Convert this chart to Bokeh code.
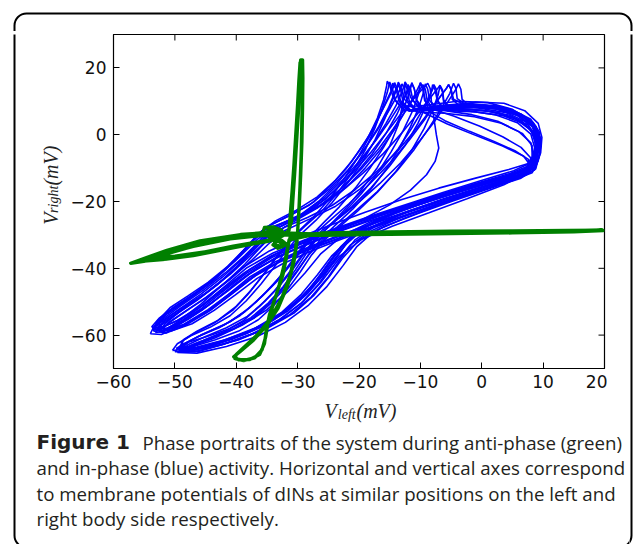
import math
from bokeh.plotting import figure
from bokeh.models import FixedTicker, Range1d, GridBox
from bokeh.core.properties import value
from bokeh.embed import file_html
from bokeh.resources import INLINE

# ---------------- data ----------------
x_ticks = [-60, -50, -40, -30, -20, -10, 0, 10, 20]
x_tick_labels = ["\u221260", "\u221250", "\u221240", "\u221230", "\u221220", "\u221210", "0", "10", "20"]
y_ticks = [-60, -40, -20, 0, 20]
y_tick_labels = ["\u221260", "\u221240", "\u221220", "0", "20"]
x_min, x_max = -60, 20
y_min, y_max = -70, 30

# in-phase activity (blue): loops, (V_left, V_right)
blue_loop_a1 = [(-53.5,-58.8),(-53.0,-56.2),(-50.8,-52.6),(-47.0,-48.2),(-43.4,-43.2),(-40.2,-37.8),(-37.4,-32.0),(-35.0,-27.6),(-31.0,-24.0),(-27.4,-20.2),(-24.6,-15.2),(-22.2,-10.4),(-20.2,-5.4),(-18.4,-0.4),(-17.0,5.0),(-16.0,10.4),(-15.5,14.6),(-15.4,16.0),(-15.0,14.8),(-14.4,11.0),(-13.0,8.2),(-9.0,8.8),(-4.0,10.0),(1.0,9.6),(5.0,7.6),(7.8,4.4),(9.2,0.2),(9.2,-4.4),(8.4,-9.0),(6.0,-11.4),(1.0,-14.2),(-5.0,-17.6),(-11.0,-21.0),(-17.0,-24.6),(-22.0,-28.0),(-27.0,-31.8),(-32.0,-35.6),(-36.6,-40.0),(-40.4,-45.0),(-44.0,-50.4),(-47.8,-55.2),(-51.4,-58.6),(-53.5,-58.8)]
blue_loop_a2 = [(-52.8,-58.0),(-51.6,-55.8),(-48.8,-52.2),(-45.2,-47.8),(-41.8,-42.8),(-38.8,-37.6),(-36.0,-32.4),(-33.4,-28.2),(-30.0,-24.6),(-26.6,-20.0),(-23.6,-14.6),(-21.0,-9.0),(-18.8,-3.4),(-16.8,2.4),(-15.2,8.0),(-14.2,12.6),(-13.7,15.0),(-13.6,15.7),(-13.2,14.4),(-12.6,10.6),(-11.0,7.6),(-7.0,7.8),(-2.0,8.4),(3.0,7.6),(6.6,5.4),(8.6,2.0),(9.0,-2.2),(8.7,-6.8),(7.8,-10.2),(4.8,-12.4),(-0.6,-15.4),(-6.6,-18.8),(-12.6,-22.4),(-18.6,-26.0),(-23.6,-29.2),(-28.6,-32.8),(-33.4,-36.6),(-37.6,-41.4),(-41.4,-46.8),(-45.0,-51.6),(-48.6,-55.6),(-51.4,-58.0),(-52.8,-58.0)]
blue_loop_a3 = [(-53.8,-57.6),(-52.6,-55.0),(-50.0,-51.4),(-46.4,-47.0),(-42.8,-42.0),(-39.6,-36.8),(-36.6,-31.4),(-33.8,-27.4),(-29.6,-24.6),(-25.6,-20.6),(-22.0,-15.6),(-19.0,-10.0),(-16.4,-4.2),(-14.2,1.6),(-12.4,7.2),(-10.9,12.0),(-10.2,14.6),(-10.0,15.5),(-9.6,14.0),(-9.2,10.4),(-8.6,7.0),(-6.0,4.2),(-2.0,1.0),(2.0,-2.0),(5.4,-4.8),(7.6,-7.4),(7.6,-10.2),(5.0,-12.0),(0.0,-14.6),(-6.0,-17.8),(-12.0,-21.2),(-18.0,-24.8),(-23.4,-28.2),(-28.6,-31.8),(-33.6,-35.8),(-38.0,-40.6),(-41.8,-46.0),(-45.4,-51.0),(-49.0,-55.2),(-52.2,-57.8),(-53.8,-57.6)]
blue_loop_a4 = [(-54.0,-59.6),(-53.4,-57.4),(-51.2,-53.6),(-47.6,-49.0),(-44.0,-44.0),(-40.8,-38.6),(-38.0,-33.0),(-35.4,-28.6),(-31.4,-25.6),(-27.0,-22.0),(-23.0,-17.2),(-19.4,-11.6),(-16.0,-5.6),(-13.0,0.6),(-10.4,6.4),(-8.4,11.0),(-7.2,13.8),(-6.8,14.8),(-6.4,13.4),(-6.2,10.4),(-5.4,8.4),(-1.0,9.8),(3.6,9.4),(7.0,7.2),(9.2,3.4),(9.8,-0.8),(9.6,-5.4),(8.8,-9.6),(6.4,-12.2),(1.4,-15.2),(-4.6,-18.8),(-10.6,-22.4),(-16.6,-26.0),(-22.0,-29.6),(-27.2,-33.2),(-32.2,-37.2),(-36.8,-41.8),(-40.8,-47.2),(-44.6,-52.4),(-48.6,-56.8),(-52.2,-59.8),(-54.0,-59.6)]
blue_loop_a5 = [(-53.0,-57.2),(-51.8,-55.0),(-49.0,-51.2),(-45.4,-46.6),(-41.8,-41.4),(-38.6,-36.2),(-35.8,-31.0),(-33.0,-27.0),(-29.0,-23.6),(-25.4,-19.2),(-22.4,-13.8),(-19.8,-8.2),(-17.6,-2.4),(-15.6,3.4),(-14.0,8.6),(-13.0,12.8),(-12.6,15.0),(-12.5,15.8),(-12.1,14.6),(-11.6,11.2),(-10.2,8.0),(-6.0,7.2),(-1.6,6.0),(2.6,4.0),(6.0,1.0),(8.0,-2.4),(8.4,-6.2),(7.6,-9.4),(4.6,-11.6),(-1.0,-14.6),(-7.0,-18.0),(-13.0,-21.6),(-19.0,-25.2),(-24.4,-28.6),(-29.6,-32.2),(-34.4,-36.4),(-38.6,-41.2),(-42.4,-46.4),(-46.0,-51.6),(-49.6,-55.6),(-52.0,-57.6),(-53.0,-57.2)]
blue_loop_a6 = [(-52.4,-58.6),(-51.6,-56.6),(-49.2,-53.0),(-45.8,-48.6),(-42.4,-43.8),(-39.4,-38.8),(-36.8,-33.8),(-34.4,-29.0),(-30.8,-25.6),(-27.2,-21.8),(-24.0,-16.8),(-21.0,-11.4),(-18.2,-5.6),(-15.6,0.4),(-13.2,6.2),(-11.0,11.0),(-9.4,14.2),(-8.8,15.4),(-8.4,13.8),(-8.2,10.0),(-7.8,5.0),(-7.4,0.0),(-7.0,-4.0),(-7.6,-8.0),(-9.0,-12.0),(-11.6,-16.6),(-15.0,-21.0),(-19.4,-25.4),(-24.4,-29.6),(-29.4,-33.4),(-34.0,-37.4),(-38.2,-42.0),(-42.0,-47.4),(-45.6,-52.6),(-49.2,-56.8),(-51.6,-58.8),(-52.4,-58.6)]
blue_loop_a7 = [(-53.2,-59.2),(-52.2,-57.0),(-49.8,-53.8),(-46.4,-49.6),(-43.0,-44.8),(-40.0,-39.6),(-37.6,-34.8),(-35.6,-30.4),(-32.8,-26.8),(-29.0,-23.4),(-25.6,-18.8),(-22.6,-13.4),(-19.8,-7.6),(-17.2,-1.6),(-15.0,4.2),(-13.2,9.4),(-11.9,13.2),(-11.4,15.2),(-11.0,13.8),(-10.6,10.4),(-9.4,7.4),(-5.0,7.6),(0.0,7.4),(4.6,5.8),(7.6,2.8),(8.8,-1.4),(8.6,-5.6),(7.6,-8.6),(4.4,-10.4),(-1.0,-13.0),(-7.0,-16.0),(-13.0,-19.4),(-19.0,-23.2),(-24.6,-27.0),(-29.8,-30.8),(-34.6,-34.8),(-38.8,-39.6),(-42.4,-45.2),(-45.8,-50.8),(-49.2,-55.6),(-52.0,-59.0),(-53.2,-59.2)]
blue_loop_a8 = [(-52.6,-57.4),(-52.4,-55.0),(-50.8,-51.8),(-47.8,-48.2),(-44.6,-44.2),(-41.4,-39.4),(-38.6,-34.2),(-36.4,-29.6),(-33.6,-25.8),(-30.2,-22.6),(-26.8,-18.6),(-23.8,-13.6),(-21.2,-8.0),(-19.0,-2.2),(-17.2,3.6),(-15.8,9.0),(-14.8,13.0),(-14.5,15.4),(-14.0,13.8),(-13.4,9.8),(-11.8,7.0),(-7.6,8.6),(-2.4,9.4),(2.6,8.6),(6.4,6.2),(8.8,2.6),(9.6,-1.6),(9.4,-6.0),(8.6,-10.6),(5.6,-13.2),(0.4,-16.4),(-5.6,-20.0),(-11.6,-23.8),(-17.6,-27.8),(-23.0,-31.4),(-28.0,-35.0),(-32.6,-38.8),(-36.6,-43.0),(-40.2,-48.0),(-43.6,-52.6),(-47.2,-56.6),(-50.6,-58.8),(-52.6,-57.4)]
blue_loop_a9 = [(-53.6,-58.2),(-52.0,-55.6),(-48.8,-51.8),(-44.8,-47.2),(-41.0,-41.8),(-37.8,-36.4),(-35.0,-31.6),(-32.2,-27.8),(-28.4,-24.8),(-24.4,-21.2),(-20.6,-16.4),(-17.0,-10.8),(-13.8,-5.0),(-11.0,1.0),(-8.6,6.8),(-6.8,11.4),(-5.7,14.0),(-5.4,15.0),(-5.0,13.6),(-4.8,10.6),(-3.6,8.6),(0.6,8.8),(5.0,7.4),(8.0,4.6),(9.4,0.8),(9.6,-3.6),(9.2,-7.8),(8.2,-11.4),(5.2,-13.6),(-0.2,-16.6),(-6.2,-20.4),(-12.2,-24.0),(-18.2,-27.8),(-23.4,-31.2),(-28.4,-34.6),(-33.0,-38.2),(-37.2,-42.6),(-41.0,-48.0),(-44.8,-53.2),(-48.6,-57.0),(-52.0,-58.8),(-53.6,-58.2)]
blue_loop_a10 = [(-53.0,-58.4),(-52.0,-56.0),(-49.4,-52.4),(-45.8,-47.8),(-42.2,-42.6),(-39.0,-37.2),(-36.2,-32.2),(-33.6,-28.2),(-30.0,-25.0),(-26.2,-21.0),(-22.8,-16.0),(-19.6,-10.2),(-16.8,-4.2),(-14.4,1.8),(-12.4,7.2),(-10.8,11.6),(-9.9,14.0),(-9.6,15.0),(-9.2,13.6),(-8.9,10.4),(-8.0,7.6),(-4.6,5.6),(-0.4,2.6),(3.4,-0.6),(6.4,-3.8),(8.0,-7.0),(7.4,-10.0),(4.2,-12.2),(-1.4,-15.0),(-7.4,-18.4),(-13.4,-22.0),(-19.4,-25.8),(-24.8,-29.4),(-29.8,-33.0),(-34.2,-36.8),(-38.4,-41.6),(-42.2,-47.0),(-45.8,-52.2),(-49.4,-56.4),(-52.0,-58.6),(-53.0,-58.4)]
blue_loop_a11 = [(-52.0,-58.2),(-51.0,-56.2),(-48.4,-53.0),(-45.0,-48.8),(-41.6,-44.0),(-38.6,-38.8),(-36.0,-33.6),(-33.8,-29.4),(-30.4,-25.8),(-26.8,-22.0),(-23.4,-17.0),(-20.4,-11.4),(-17.8,-5.6),(-15.6,0.4),(-13.8,6.2),(-12.6,11.0),(-12.1,13.6),(-12.0,15.0),(-11.6,13.6),(-11.2,10.2),(-9.8,7.6),(-5.6,8.2),(-0.6,8.0),(4.0,6.6),(7.2,3.8),(8.8,-0.2),(8.8,-4.6),(8.0,-8.4),(5.2,-10.8),(-0.2,-13.8),(-6.2,-17.2),(-12.2,-20.8),(-18.2,-24.4),(-23.8,-28.0),(-29.0,-31.6),(-34.0,-35.4),(-38.4,-40.0),(-42.0,-45.6),(-45.4,-51.0),(-48.8,-55.6),(-51.2,-58.2),(-52.0,-58.2)]
blue_loop_a12 = [(-53.3,-58.0),(-52.8,-55.6),(-50.4,-52.0),(-46.8,-47.6),(-43.2,-42.6),(-40.2,-37.4),(-37.6,-32.2),(-35.4,-28.0),(-32.0,-24.8),(-28.2,-21.2),(-24.8,-16.2),(-21.8,-10.6),(-19.2,-4.6),(-17.0,1.4),(-15.2,7.0),(-13.8,11.6),(-13.2,14.0),(-13.0,15.2),(-12.6,13.8),(-12.2,10.4),(-10.8,7.8),(-6.4,8.6),(-1.4,9.0),(3.4,8.0),(6.8,5.6),(8.9,2.0),(9.4,-2.4),(9.0,-6.8),(8.0,-10.4),(4.8,-13.0),(-0.8,-16.2),(-6.8,-19.8),(-12.8,-23.4),(-18.8,-27.2),(-24.2,-30.8),(-29.2,-34.4),(-33.8,-38.2),(-37.8,-42.6),(-41.4,-48.0),(-44.8,-53.0),(-48.4,-56.8),(-51.8,-58.6),(-53.3,-58.0)]
blue_loop_a13 = [(-52.6,-59.0),(-51.2,-56.6),(-48.2,-52.8),(-44.4,-48.2),(-40.8,-43.0),(-37.6,-37.8),(-34.8,-32.8),(-32.0,-28.6),(-28.0,-25.2),(-23.8,-21.4),(-19.8,-16.2),(-16.4,-10.4),(-13.6,-4.2),(-11.4,2.0),(-9.6,7.6),(-8.4,12.0),(-7.9,14.0),(-7.8,15.0),(-7.4,13.6),(-7.2,10.4),(-6.4,7.8),(-2.2,8.6),(2.6,8.2),(6.4,6.0),(8.8,2.4),(9.6,-1.8),(9.4,-6.2),(8.6,-10.0),(6.0,-12.6),(1.0,-15.8),(-5.0,-19.4),(-11.0,-23.2),(-17.0,-27.0),(-22.4,-30.4),(-27.6,-33.8),(-32.4,-37.4),(-36.6,-41.8),(-40.4,-47.2),(-44.2,-52.6),(-48.0,-56.8),(-51.4,-59.4),(-52.6,-59.0)]
blue_loop_b1 = [(-49.4,-64.5),(-48.4,-62.6),(-45.8,-60.0),(-42.0,-57.0),(-38.6,-53.0),(-35.8,-48.4),(-33.2,-43.6),(-31.0,-38.6),(-29.0,-33.6),(-27.0,-29.4),(-24.6,-25.4),(-21.6,-20.6),(-18.2,-14.6),(-14.8,-8.2),(-11.8,-1.6),(-9.2,4.8),(-7.2,10.2),(-5.8,13.8),(-5.4,15.0),(-5.0,13.6),(-4.6,10.6),(-3.0,9.2),(1.6,8.6),(5.6,6.8),(8.4,3.6),(9.4,-0.6),(9.2,-5.2),(8.6,-9.6),(6.0,-12.0),(1.0,-14.6),(-5.0,-17.8),(-11.0,-21.4),(-16.4,-25.2),(-20.4,-29.0),(-23.0,-33.6),(-25.2,-39.0),(-27.6,-45.2),(-30.4,-50.6),(-34.0,-55.6),(-38.4,-59.6),(-43.0,-62.6),(-47.4,-64.8),(-49.4,-64.5)]
blue_loop_b2 = [(-48.8,-63.8),(-47.6,-61.8),(-44.8,-59.2),(-41.0,-56.0),(-37.8,-51.8),(-35.2,-47.2),(-32.8,-42.4),(-30.6,-37.4),(-28.4,-32.6),(-26.0,-28.6),(-23.2,-24.8),(-20.0,-20.2),(-16.6,-14.6),(-13.2,-8.4),(-10.2,-2.0),(-7.6,4.2),(-5.6,9.6),(-4.2,13.6),(-3.8,15.2),(-3.4,13.6),(-3.2,10.6),(-1.8,8.2),(2.8,7.8),(6.6,5.6),(8.8,2.0),(9.2,-2.6),(8.8,-7.2),(7.8,-10.8),(4.6,-13.0),(-0.6,-16.0),(-6.6,-19.6),(-12.4,-23.4),(-17.2,-27.2),(-20.6,-31.4),(-22.8,-36.6),(-25.0,-42.6),(-27.8,-48.6),(-31.2,-53.8),(-35.4,-58.2),(-40.0,-61.6),(-44.8,-64.0),(-48.8,-63.8)]
blue_loop_b3 = [(-50.0,-65.0),(-49.0,-63.0),(-46.4,-60.6),(-42.8,-57.8),(-39.4,-54.2),(-36.6,-49.8),(-34.0,-45.0),(-31.8,-40.0),(-29.8,-35.0),(-28.0,-30.6),(-25.8,-26.4),(-23.2,-21.6),(-20.6,-16.0),(-18.2,-10.0),(-16.0,-3.8),(-14.0,2.6),(-12.6,8.4),(-11.7,13.0),(-11.4,15.6),(-11.0,13.8),(-10.6,10.0),(-9.4,6.6),(-5.6,3.2),(-1.0,-0.2),(3.4,-3.4),(6.8,-6.4),(8.0,-9.4),(6.6,-11.8),(2.0,-14.0),(-4.0,-17.2),(-10.0,-20.6),(-15.6,-24.4),(-19.8,-28.4),(-22.4,-33.4),(-24.4,-38.8),(-26.6,-44.8),(-29.4,-50.4),(-33.0,-55.4),(-37.4,-59.6),(-42.2,-62.8),(-46.8,-65.0),(-50.0,-65.0)]
blue_loop_b4 = [(-49.0,-64.8),(-47.8,-62.8),(-45.0,-60.4),(-41.6,-57.8),(-38.2,-54.4),(-35.4,-50.0),(-33.0,-45.4),(-30.8,-40.4),(-28.8,-35.2),(-26.8,-30.6),(-24.2,-26.4),(-21.2,-21.6),(-18.0,-15.8),(-15.0,-9.4),(-12.4,-3.0),(-10.4,3.4),(-9.0,9.0),(-8.2,13.0),(-8.0,15.0),(-7.6,13.4),(-7.2,9.8),(-5.6,7.2),(-1.0,6.8),(3.6,5.6),(7.0,3.2),(8.8,-0.6),(9.0,-4.8),(8.4,-8.8),(5.8,-11.4),(0.4,-14.4),(-5.6,-17.8),(-11.6,-21.6),(-17.0,-25.4),(-21.0,-29.8),(-23.6,-35.0),(-25.8,-40.8),(-28.4,-46.8),(-31.6,-52.2),(-35.8,-57.0),(-40.6,-61.0),(-45.4,-64.0),(-49.0,-64.8)]
blue_loop_b5 = [(-49.8,-64.0),(-48.0,-62.2),(-45.0,-60.6),(-41.0,-58.0),(-37.6,-54.8),(-34.8,-50.4),(-32.4,-45.6),(-30.4,-40.6),(-28.6,-35.6),(-26.8,-31.0),(-24.6,-26.8),(-22.0,-21.8),(-19.4,-16.0),(-17.0,-9.8),(-15.0,-3.4),(-13.6,3.0),(-12.9,9.0),(-12.6,13.2),(-12.5,15.3),(-12.1,13.4),(-11.8,9.8),(-10.6,6.8),(-6.0,6.4),(-1.2,5.4),(3.2,3.4),(6.6,0.4),(8.2,-3.2),(8.2,-7.2),(7.0,-10.4),(3.8,-12.6),(-1.8,-15.4),(-7.8,-18.8),(-13.4,-22.6),(-18.2,-26.8),(-21.8,-31.4),(-24.2,-37.0),(-26.6,-43.0),(-29.4,-48.6),(-32.8,-53.8),(-37.0,-58.2),(-41.8,-61.6),(-46.4,-63.8),(-49.8,-64.0)]
blue_loop_b6 = [(-48.4,-64.8),(-46.6,-63.2),(-43.4,-61.4),(-39.6,-58.8),(-36.4,-55.4),(-33.8,-51.0),(-31.6,-46.2),(-29.6,-41.2),(-27.8,-36.2),(-25.8,-31.8),(-23.2,-27.6),(-20.2,-22.8),(-17.0,-17.2),(-14.0,-11.0),(-11.4,-4.6),(-9.4,1.8),(-7.9,7.8),(-7.1,12.0),(-6.8,14.6),(-6.4,12.8),(-6.2,9.6),(-4.8,7.8),(-0.2,8.4),(4.4,7.2),(7.6,4.4),(9.0,0.6),(9.2,-3.8),(8.8,-8.2),(7.4,-11.8),(4.0,-14.2),(-1.4,-17.2),(-7.4,-20.8),(-13.0,-24.6),(-17.8,-28.6),(-21.4,-33.0),(-23.8,-38.4),(-26.2,-44.2),(-29.0,-49.8),(-32.6,-55.0),(-37.0,-59.4),(-41.8,-62.6),(-46.0,-64.8),(-48.4,-64.8)]
blue_loop_b7 = [(-49.0,-63.6),(-48.6,-61.4),(-46.4,-58.8),(-43.0,-55.6),(-40.0,-51.4),(-37.6,-46.6),(-35.4,-41.4),(-33.2,-36.2),(-31.2,-31.6),(-28.8,-27.4),(-26.0,-22.8),(-23.4,-17.2),(-21.0,-11.0),(-19.0,-4.6),(-17.4,2.0),(-16.2,8.0),(-15.4,12.6),(-15.0,15.8),(-14.6,14.0),(-14.0,10.0),(-12.6,7.2),(-8.4,8.0),(-3.4,8.8),(1.6,8.2),(5.6,6.0),(8.2,2.6),(9.0,-1.8),(8.8,-6.2),(7.8,-9.8),(4.8,-12.0),(-0.6,-14.8),(-6.6,-18.2),(-12.6,-22.0),(-18.0,-26.0),(-22.8,-30.4),(-26.2,-35.6),(-28.8,-41.4),(-31.6,-47.0),(-35.0,-52.4),(-39.0,-57.0),(-43.4,-60.8),(-47.2,-63.4),(-49.0,-63.6)]
blue_loop_b8 = [(-49.6,-65.2),(-48.2,-63.6),(-45.4,-61.6),(-42.0,-59.0),(-38.8,-55.6),(-36.2,-51.4),(-33.8,-46.8),(-31.6,-41.8),(-29.6,-36.8),(-27.6,-32.2),(-25.2,-28.0),(-22.4,-23.2),(-19.6,-17.6),(-17.0,-11.6),(-14.8,-5.2),(-12.8,1.2),(-11.2,7.4),(-10.3,12.2),(-10.0,15.6),(-9.6,13.8),(-9.3,10.2),(-8.0,7.6),(-3.4,7.8),(1.2,7.0),(5.4,4.8),(8.0,1.4),(8.8,-2.8),(8.6,-7.4),(7.8,-11.0),(4.6,-13.6),(-0.8,-17.0),(-6.8,-21.0),(-12.6,-25.0),(-17.6,-29.0),(-20.4,-33.6),(-22.6,-39.2),(-25.2,-45.4),(-28.2,-51.0),(-32.0,-56.2),(-36.6,-60.4),(-41.6,-63.4),(-46.4,-65.4),(-49.6,-65.2)]
blue_loop_b9 = [(-48.0,-64.2),(-46.4,-62.6),(-43.6,-60.6),(-40.2,-58.0),(-37.0,-54.8),(-34.4,-50.6),(-32.0,-45.8),(-30.0,-40.8),(-28.2,-35.8),(-26.2,-31.2),(-23.8,-27.0),(-21.0,-22.2),(-18.2,-16.6),(-15.6,-10.4),(-13.4,-4.0),(-11.6,2.4),(-10.2,8.4),(-9.5,12.6),(-9.2,15.2),(-8.8,13.6),(-8.5,10.2),(-7.0,7.6),(-2.4,7.2),(2.2,6.0),(5.8,3.6),(8.0,0.2),(8.6,-3.8),(8.2,-7.8),(6.6,-11.0),(3.2,-13.2),(-2.4,-16.2),(-8.4,-19.8),(-14.2,-23.6),(-19.0,-27.8),(-22.0,-32.6),(-24.4,-38.2),(-26.8,-44.0),(-29.6,-49.4),(-33.2,-54.4),(-37.6,-58.6),(-42.4,-61.8),(-46.2,-63.8),(-48.0,-64.2)]
blue_loop_b10 = [(-50.4,-64.6),(-49.6,-62.6),(-47.4,-60.2),(-44.2,-57.6),(-41.0,-54.2),(-38.4,-49.8),(-36.0,-44.8),(-33.8,-39.6),(-31.8,-34.6),(-29.6,-30.0),(-27.0,-25.6),(-24.4,-20.4),(-21.8,-14.4),(-19.4,-8.0),(-17.4,-1.6),(-15.8,4.8),(-14.6,10.2),(-13.9,13.4),(-13.6,15.0),(-13.2,13.2),(-12.8,9.6),(-11.4,7.0),(-7.0,7.4),(-2.0,7.6),(2.8,6.6),(6.4,4.2),(8.4,0.6),(8.8,-3.6),(8.4,-7.8),(7.2,-11.6),(3.6,-15.0),(-2.4,-19.2),(-8.6,-23.4),(-14.6,-27.4),(-19.6,-31.4),(-23.2,-36.4),(-25.8,-42.0),(-28.4,-47.6),(-31.6,-52.8),(-35.6,-57.4),(-40.6,-61.2),(-45.6,-63.8),(-50.4,-64.6)]
blue_loop_b11 = [(-48.6,-64.4),(-47.0,-62.8),(-44.2,-60.8),(-40.6,-58.2),(-37.4,-55.0),(-34.8,-50.8),(-32.4,-46.0),(-30.2,-41.0),(-28.2,-36.0),(-26.0,-31.6),(-23.4,-27.4),(-20.4,-22.6),(-17.0,-17.0),(-13.8,-10.8),(-11.0,-4.4),(-8.6,2.0),(-6.6,7.8),(-5.2,12.4),(-4.6,15.4),(-4.2,13.8),(-4.0,10.8),(-2.4,8.8),(2.2,8.4),(6.0,6.4),(8.6,3.0),(9.6,-1.2),(9.4,-5.8),(8.8,-10.2),(6.4,-13.0),(1.4,-16.0),(-4.6,-19.8),(-10.4,-23.6),(-15.8,-27.4),(-20.0,-31.6),(-22.6,-36.8),(-24.8,-42.4),(-27.4,-48.2),(-30.6,-53.4),(-34.8,-57.8),(-39.6,-61.4),(-44.6,-63.8),(-48.6,-64.4)]
blue_loop_b12 = [(-49.2,-64.0),(-48.8,-61.8),(-46.8,-59.4),(-43.6,-56.4),(-40.6,-52.6),(-38.2,-48.0),(-36.0,-43.0),(-34.0,-38.0),(-32.0,-33.2),(-29.8,-28.8),(-27.2,-24.2),(-24.6,-18.8),(-22.2,-12.6),(-20.0,-6.2),(-18.0,0.4),(-16.4,6.6),(-15.0,11.6),(-14.4,14.2),(-14.2,15.6),(-13.8,13.8),(-13.2,10.0),(-11.8,7.2),(-7.6,8.2),(-2.6,8.6),(2.2,7.8),(6.0,5.6),(8.4,2.2),(9.2,-2.0),(9.0,-6.4),(8.2,-10.2),(5.4,-12.6),(0.0,-15.6),(-6.0,-19.0),(-11.8,-22.8),(-17.0,-26.8),(-21.4,-31.0),(-24.4,-36.2),(-26.8,-42.0),(-29.4,-47.8),(-32.6,-53.2),(-36.8,-57.8),(-41.8,-61.4),(-46.4,-63.6),(-49.2,-64.0)]

blue_loops = [blue_loop_a1, blue_loop_a2, blue_loop_a3, blue_loop_a4, blue_loop_a5,
              blue_loop_a6, blue_loop_a7, blue_loop_a8, blue_loop_a9, blue_loop_a10,
              blue_loop_a11, blue_loop_a12, blue_loop_a13,
              blue_loop_b1, blue_loop_b2, blue_loop_b3, blue_loop_b4, blue_loop_b5,
              blue_loop_b6, blue_loop_b7, blue_loop_b8, blue_loop_b9, blue_loop_b10,
              blue_loop_b11, blue_loop_b12]

# anti-phase activity (green): trajectory
green_path = [(-31.2,-30.6),(-26,-29.6),(-15,-29.2),(-5,-29.0),(5,-28.9),(14,-28.8),(19.8,-28.7),(15,-29.1),(5,-29.4),(-5,-29.6),(-15,-29.8),(-25,-30.0),(-31,-29.6),(-35,-29.3),(-39.3,-29.9),(-45.9,-31.8),(-51.3,-34.6),(-57.2,-38.5),(-54,-37.6),(-51.3,-37.2),(-45.9,-35.4),(-40.5,-33.4),(-36.1,-32.0),(-33.4,-31.2),(-32.2,-30.0),(-32.6,-28.6),(-34.0,-27.6),(-35.4,-27.8),(-35.6,-29.0),(-34.2,-30.6),(-32.6,-31.6),(-31.8,-32.8),(-32.6,-33.6),(-33.8,-32.8),(-33.6,-31.2),(-31.6,-29.4),(-31.0,-26.0),(-30.8,-20.0),(-30.5,-12.0),(-30.2,-3.0),(-29.9,6.0),(-29.7,14.0),(-29.55,20.0),(-29.5,22.4),(-29.2,22.4),(-29.15,17.0),(-29.2,8.0),(-29.3,-2.0),(-29.5,-12.0),(-29.7,-20.0),(-29.9,-26.0),(-30.1,-32.0),(-30.6,-38.0),(-31.6,-45.0),(-33.2,-52.0),(-35.0,-57.0),(-37.2,-61.5),(-39.3,-64.8),(-40.4,-66.5),(-39.6,-67.4),(-37.8,-67.3),(-36.2,-65.8),(-35.4,-62.5),(-35.1,-58.5),(-34.6,-54.0),(-33.5,-48.0),(-32.4,-42.0),(-31.8,-36.5),(-31.4,-31.5),
              (-26,-29.4),(-15,-29.1),(-5,-28.9),(5,-28.8),(14,-28.7),(19.6,-28.6),(15,-29.0),(5,-29.3),(-5,-29.5),(-15,-29.7),(-25,-29.9),(-31,-29.5),(-35.5,-29.6),(-40,-30.4),(-45.5,-32.6),(-50.5,-35.2),(-55.5,-37.9),(-52,-37.4),(-47,-36.2),(-42,-34.4),(-37.6,-32.8),(-34.4,-31.8),(-33.0,-30.6),(-33.2,-29.2),(-34.6,-28.4),(-35.2,-29.4),(-34.4,-31.0),(-33.0,-32.0),(-32.2,-33.2),(-33.2,-34.0),(-34.0,-33.0),(-33.0,-31.0),(-31.4,-28.6),(-31.2,-24.0),(-30.9,-17.0),(-30.6,-9.0),(-30.3,0.0),(-30.0,9.0),(-29.8,16.0),(-29.6,21.6),(-29.3,22.0),(-29.2,15.0),(-29.3,5.0),(-29.4,-5.0),(-29.6,-15.0),(-29.8,-23.0),(-30.0,-29.0),(-30.4,-35.0),(-31.2,-42.0),(-32.6,-49.0),(-34.4,-55.0),(-36.4,-59.6),(-38.6,-63.4),(-40.0,-65.8),(-40.2,-67.0),(-38.8,-67.6),(-37.0,-66.8),(-35.8,-64.4),(-35.2,-60.5),(-34.8,-56.0),(-34.0,-51.0),(-33.0,-45.0),(-32.2,-39.0),(-31.6,-33.5),(-31.2,-30.6),
              (-26,-29.5),(-15,-29.2),(-5,-29.0),(5,-28.9),(14,-28.8),(19.2,-28.7),(14,-29.1),(4,-29.4),(-6,-29.6),(-16,-29.8),(-26,-30.1),(-31.5,-30.0),(-36,-30.2),(-41,-31.2),(-47,-33.4),(-53.5,-36.6),(-50,-36.4),(-44,-34.8),(-39,-33.2),(-35,-31.8),(-32.8,-30.8)]

caption_bold = "Figure 1"
caption_first = "Phase portraits of the system during anti-phase (green)"
caption_rest = ["and in-phase (blue) activity. Horizontal and vertical axes correspond",
                "to membrane potentials of dINs at similar positions on the left and",
                "right body side respectively."]
x_label_parts = ["V", "left", "(mV)"]
y_label_parts = ["V", "right", "(mV)"]

# ---------------- page geometry (window pixels) ----------------
TOP_H, ROW_H, CAP_H = 31, 367, 146           # rows
C0, C1, C2, C3, C4 = 30, 33, 544, 22, 4      # columns
PW = C0 + C1 + C2 + C3 + C4                  # 633
BOX = dict(left=14, right=631, top=13, bottom=547)   # rounded page frame


def strip(w, h, x0, y0):
    """A bare figure whose frame covers its whole canvas, in page pixels."""
    f = figure(width=w, height=h, output_backend="svg", toolbar_location=None,
               x_range=Range1d(x0, x0 + w), y_range=Range1d(y0 + h, y0),
               x_axis_type=None, y_axis_type=None, min_border=0)
    f.title.visible = False
    f.outline_line_color = None
    f.background_fill_color = "white"
    f.border_fill_color = "white"
    f.quad(left=BOX["left"], right=BOX["right"], top=BOX["top"], bottom=BOX["bottom"],
           fill_color=None, line_color="black", line_width=2, border_radius=12)
    return f


top_strip = strip(PW, TOP_H, 0, 0)
left_border = strip(C0, ROW_H + CAP_H, 0, TOP_H)
ylab_strip = strip(C1, ROW_H, C0, TOP_H)
right_border = strip(C4, ROW_H + CAP_H, PW - C4, TOP_H)
cap_strip = strip(C1 + C2 + C3, CAP_H, C0, TOP_H + ROW_H)

# ---------------- main chart ----------------
p = figure(width=C2, height=ROW_H, output_backend="svg", toolbar_location=None,
           x_range=Range1d(x_min, x_max), y_range=Range1d(y_min, y_max),
           min_border_left=50, min_border_right=3, min_border_top=3, min_border_bottom=30)
p.title.visible = False
p.xgrid.visible = False
p.ygrid.visible = False
p.outline_line_color = "black"
p.outline_line_width = 1.2
p.background_fill_color = "white"
p.border_fill_color = "white"

for ax, ticks, labels, standoff in ((p.xaxis[0], x_ticks, x_tick_labels, 6),
                                    (p.yaxis[0], y_ticks, y_tick_labels, 7)):
    ax.ticker = FixedTicker(ticks=ticks)
    ax.major_label_overrides = {t: l for t, l in zip(ticks, labels)}
    ax.major_tick_in = 6
    ax.major_tick_out = 0
    ax.major_tick_line_color = "black"
    ax.minor_tick_line_color = None
    ax.axis_line_color = "black"
    ax.major_label_standoff = standoff
    ax.major_label_text_font = "DejaVu Sans"
    ax.major_label_text_font_size = "17px"
    ax.major_label_text_color = "#111111"

# mirrored inward ticks on the top and right edges
p.ray(x=x_ticks, y=y_max, length=6, length_units="screen", angle=-math.pi / 2,
      line_color="black", line_width=1)
p.ray(x=x_max, y=y_ticks, length=6, length_units="screen", angle=math.pi,
      line_color="black", line_width=1)

p.multi_line(xs=[[pt[0] for pt in loop] for loop in blue_loops],
             ys=[[pt[1] for pt in loop] for loop in blue_loops],
             line_color="#0000ff", line_width=1.6)
p.line(x=[pt[0] for pt in green_path], y=[pt[1] for pt in green_path],
       line_color="#008000", line_width=3.4, line_join="round")

# ---------------- axis titles (math style) ----------------
SERIF = value("Liberation Serif")
AX_COL = "#222222"
cap_strip.text(x=[324, 356], y=[410.5, 410.5], text=[x_label_parts[0], x_label_parts[2]],
               text_font=SERIF, text_font_style="italic", text_font_size="20px",
               text_color=AX_COL, text_align="left", text_baseline="alphabetic")
cap_strip.text(x=[337.3], y=[414], text=[x_label_parts[1]],
               text_font=SERIF, text_font_style="italic", text_font_size="14px",
               text_color=AX_COL, text_align="left", text_baseline="alphabetic")
ylab_strip.text(x=[50, 50], y=[240, 197], text=[y_label_parts[0], y_label_parts[2]],
                text_font=SERIF, text_font_style="italic", text_font_size="20px",
                text_color=AX_COL, text_align="left", text_baseline="alphabetic",
                angle=math.pi / 2)
ylab_strip.text(x=[53], y=[227], text=[y_label_parts[1]],
                text_font=SERIF, text_font_style="italic", text_font_size="14px",
                text_color=AX_COL, text_align="left", text_baseline="alphabetic",
                angle=math.pi / 2)

# ---------------- caption ----------------
CAP_COL = "#231f20"
cap_strip.text(x=[36], y=[441.5], text=[caption_bold], text_font=value("DejaVu Sans"),
               text_font_style="bold", text_font_size="20px", text_color=CAP_COL,
               text_align="left", text_baseline="alphabetic")
cap_strip.text(x=[142] + [36] * len(caption_rest), y=[441.5, 467, 492.5, 518],
               text=[caption_first] + caption_rest, text_font=value("Open Sans"),
               text_font_size="18.7px", text_color=CAP_COL,
               text_align="left", text_baseline="alphabetic")

grid = GridBox(children=[(top_strip, 0, 0, 1, 5),
                         (left_border, 1, 0, 2, 1),
                         (ylab_strip, 1, 1),
                         (p, 1, 2),
                         (right_border, 1, 4, 2, 1),
                         (cap_strip, 2, 1, 1, 3)],
               rows=["%dpx" % TOP_H, "%dpx" % ROW_H, "%dpx" % CAP_H],
               cols=["%dpx" % C0, "%dpx" % C1, "%dpx" % C2, "%dpx" % C3, "%dpx" % C4],
               spacing=0)
open("out.html", "w").write(file_html(grid, INLINE))
